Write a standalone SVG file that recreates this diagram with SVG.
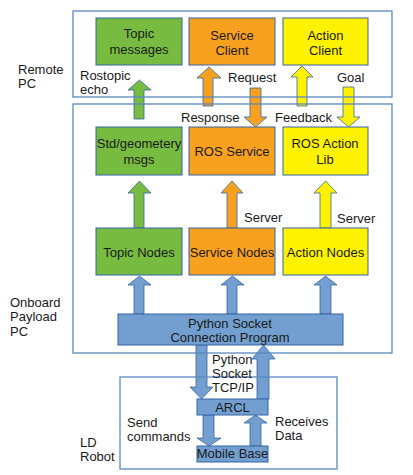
<svg xmlns="http://www.w3.org/2000/svg" width="413" height="475" viewBox="0 0 413 475">
<style>
text{font-family:"Liberation Sans",Arial,sans-serif;font-size:13px;fill:#1a1a1a}
.c{text-anchor:middle}
.g{fill:#77bc41;stroke:#3465a4;stroke-width:1}
.o{fill:#f8a11e;stroke:#3465a4;stroke-width:1}
.y{fill:#fff200;stroke:#3465a4;stroke-width:1}
.b{fill:#729fcf;stroke:#3465a4;stroke-width:1}
.ag{fill:#77bc41;stroke:#3465a4;stroke-width:0.8}
.ao{fill:#f8a11e;stroke:#3465a4;stroke-width:0.8}
.ay{fill:#fff200;stroke:#3465a4;stroke-width:0.8}
.ab{fill:#729fcf;stroke:#3465a4;stroke-width:0.8}
.box{fill:none;stroke:#5b87c0;stroke-width:1.3}
</style>
<rect width="413" height="475" fill="#ffffff"/>
<g id="connectors">
<path class="ag" d="M134,119 L134,90 L128,90 L139.5,80 L151,90 L144,90 L144,119 Z"/>
<path class="ao" d="M203,106 L203,78 L197,78 L209,67 L221,78 L213,78 L213,106 Z"/>
<path class="ao" d="M250,88 L250,117 L244,117 L255.5,127 L267,117 L261,117 L261,88 Z"/>
<path class="ay" d="M297,106 L297,77 L291,77 L302,66 L313,77 L307,77 L307,106 Z"/>
<path class="ay" d="M343,87 L343,117 L337,117 L348.5,127 L360,117 L354,117 L354,87 Z"/>
<path class="ag" d="M134,228 L134,193 L128,193 L139.5,181 L151,193 L144,193 L144,228 Z"/>
<path class="ao" d="M227,228 L227,193 L221,193 L232,181 L243,193 L237,193 L237,228 Z"/>
<path class="ay" d="M320,228 L320,193 L314,193 L325.5,181 L337,193 L331,193 L331,228 Z"/>
<path class="ab" d="M134,314 L134,285 L128,285 L139.5,276 L151,285 L144,285 L144,314 Z"/>
<path class="ab" d="M227,314 L227,285 L221,285 L232.5,276 L244,285 L237,285 L237,314 Z"/>
<path class="ab" d="M320,314 L320,285 L314,285 L325.5,276 L337,285 L331,285 L331,314 Z"/>
<path class="ab" d="M196,345 L196,387 L190,387 L201.5,399 L213,387 L207,387 L207,345 Z"/>
<path class="ab" d="M257,399 L257,359 L252,359 L263.5,345 L275,359 L269,359 L269,399 Z"/>
<path class="ab" d="M203,415 L203,438 L197,438 L209,446 L221,438 L214,438 L214,415 Z"/>
<path class="ab" d="M250,446 L250,423 L244,423 L255.5,415 L267,423 L261,423 L261,446 Z"/>
</g>
<g id="topic-messages"><rect class="g" x="96" y="18" width="86" height="47"/><text class="c" x="139" y="38">Topic</text><text class="c" x="139" y="54">messages</text></g>
<g id="service-client"><rect class="o" x="189" y="18" width="86" height="47"/><text class="c" x="232" y="40">Service</text><text class="c" x="232" y="55">Client</text></g>
<g id="action-client"><rect class="y" x="283" y="18" width="85" height="47"/><text class="c" x="325.5" y="40">Action</text><text class="c" x="325.5" y="55">Client</text></g>
<g id="std-msgs"><rect class="g" x="96" y="127" width="86" height="48"/><text class="c" x="139" y="148">Std/geometery</text><text class="c" x="139" y="164">msgs</text></g>
<g id="ros-service"><rect class="o" x="189" y="127" width="86" height="48"/><text class="c" x="232" y="156">ROS Service</text></g>
<g id="ros-action-lib"><rect class="y" x="283" y="127" width="85" height="48"/><text class="c" x="325" y="148">ROS Action</text><text class="c" x="325" y="164">Lib</text></g>
<g id="topic-nodes"><rect class="g" x="96" y="228" width="86" height="47"/><text class="c" x="139" y="257">Topic Nodes</text></g>
<g id="service-nodes"><rect class="o" x="189" y="228" width="86" height="47"/><text class="c" x="232" y="257">Service Nodes</text></g>
<g id="action-nodes"><rect class="y" x="283" y="228" width="85" height="47"/><text class="c" x="325.5" y="257">Action Nodes</text></g>
<g id="python-socket"><rect class="b" x="118" y="314" width="225" height="31"/><text class="c" x="230" y="328">Python Socket</text><text class="c" x="230" y="342">Connection Program</text></g>
<g id="arcl"><rect class="b" x="197" y="399" width="71" height="16"/><text class="c" x="232.5" y="412">ARCL</text></g>
<g id="mobile-base"><rect class="b" x="197" y="446" width="71" height="16"/><text class="c" x="232.5" y="458">Mobile Base</text></g>
<g id="containers">
<rect class="box" x="73" y="11" width="319" height="86"/>
<rect class="box" x="73" y="104" width="319" height="249"/>
<rect class="box" x="120" y="377" width="217" height="92"/>
</g>
<g id="labels">
<text x="18" y="74">Remote</text><text x="18" y="88">PC</text>
<text x="80" y="80">Rostopic</text><text x="80" y="94">echo</text>
<text x="228" y="82">Request</text>
<text x="337" y="82">Goal</text>
<text x="181" y="122">Response</text>
<text x="275" y="122">Feedback</text>
<text x="244" y="222">Server</text>
<text x="337" y="223">Server</text>
<text x="10" y="307">Onboard</text><text x="10" y="321">Payload</text><text x="10" y="336">PC</text>
<text x="212" y="364">Python</text><text x="212" y="378">Socket</text><text x="212" y="392">TCP/IP</text>
<text x="127" y="427">Send</text><text x="127" y="441">commands</text>
<text x="275" y="426">Receives</text><text x="275" y="440">Data</text>
<text x="80" y="447">LD</text><text x="80" y="461">Robot</text>
</g>
</svg>
